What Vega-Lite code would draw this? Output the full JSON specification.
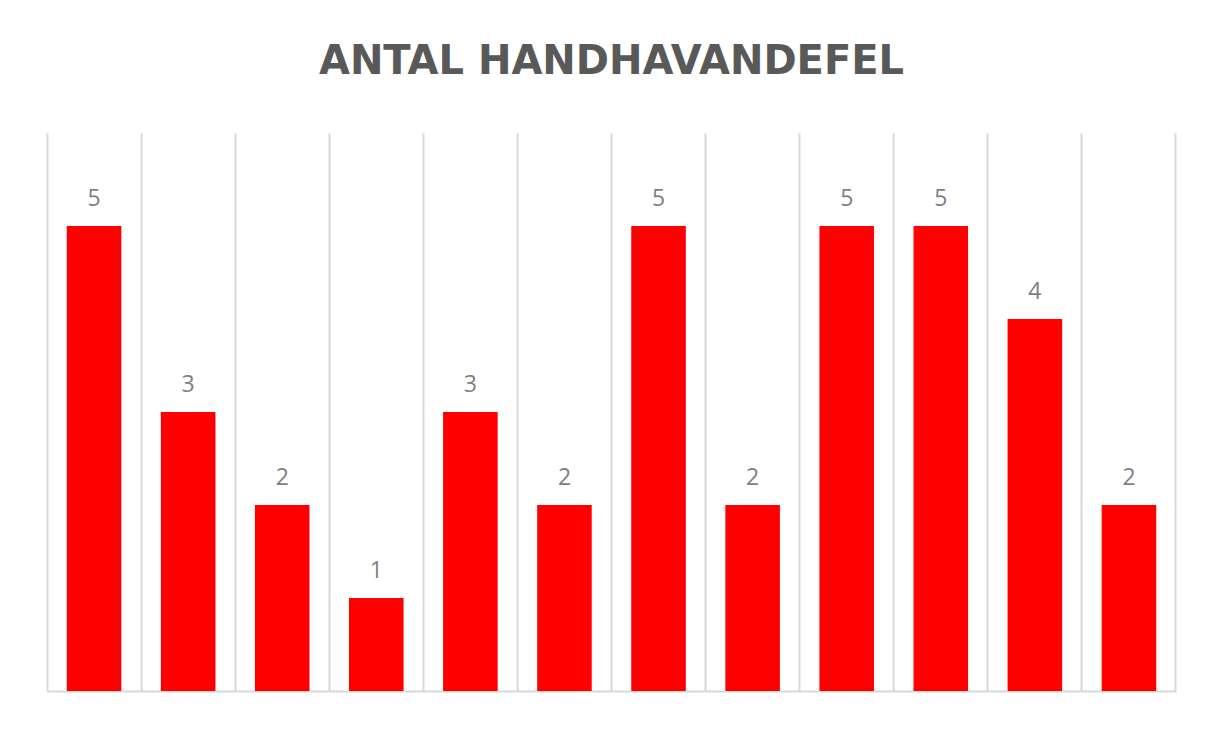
{
  "$schema": "https://vega.github.io/schema/vega-lite/v6.json",
  "width": 1129,
  "height": 558,
  "autosize": {"type": "none"},
  "padding": {"left": 47, "top": 133, "right": 32, "bottom": 38},
  "background": "white",
  "title": {
    "text": "ANTAL HANDHAVANDEFEL",
    "anchor": "middle",
    "font": "DejaVu Sans",
    "fontSize": 40,
    "fontWeight": "bold",
    "color": "#595959",
    "baseline": "alphabetic",
    "offset": 19
  },
  "config": {"view": {"stroke": null}},
  "data": {
    "values": [
      {"kategori": "1", "antal": 5},
      {"kategori": "2", "antal": 3},
      {"kategori": "3", "antal": 2},
      {"kategori": "4", "antal": 1},
      {"kategori": "5", "antal": 3},
      {"kategori": "6", "antal": 2},
      {"kategori": "7", "antal": 5},
      {"kategori": "8", "antal": 2},
      {"kategori": "9", "antal": 5},
      {"kategori": "10", "antal": 5},
      {"kategori": "11", "antal": 4},
      {"kategori": "12", "antal": 2}
    ]
  },
  "encoding": {
    "x": {
      "field": "kategori",
      "type": "nominal",
      "sort": null,
      "scale": {"paddingInner": 0.42, "paddingOuter": 0.21}
    },
    "y": {
      "field": "antal",
      "type": "quantitative",
      "scale": {"domain": [0, 6], "nice": false},
      "axis": null
    }
  },
  "layer": [
    {
      "mark": {"type": "bar", "color": "#FF0000"},
      "encoding": {
        "x": {
          "field": "kategori",
          "type": "nominal",
          "sort": null,
          "scale": {"paddingInner": 0.42, "paddingOuter": 0.21},
          "axis": {
            "title": null,
            "labels": false,
            "ticks": false,
            "grid": true,
            "gridColor": "#d9d9d9",
            "gridWidth": 2,
            "bandPosition": -0.362,
            "domain": true,
            "domainColor": "#d9d9d9",
            "domainWidth": 2
          }
        }
      }
    },
    {
      "mark": {
        "type": "text",
        "baseline": "alphabetic",
        "dy": -20,
        "font": "Open Sans",
        "fontSize": 23,
        "color": "#7f7f7f"
      },
      "encoding": {
        "x": {
          "field": "kategori",
          "type": "nominal",
          "sort": null,
          "scale": {"paddingInner": 0.42, "paddingOuter": 0.21},
          "axis": {
            "title": null,
            "values": ["12"],
            "labels": false,
            "ticks": false,
            "grid": true,
            "gridColor": "#d9d9d9",
            "gridWidth": 2,
            "bandPosition": 1.362,
            "domain": false
          }
        },
        "text": {"field": "antal", "type": "quantitative"}
      }
    }
  ],
  "resolve": {"axis": {"x": "independent"}}
}
